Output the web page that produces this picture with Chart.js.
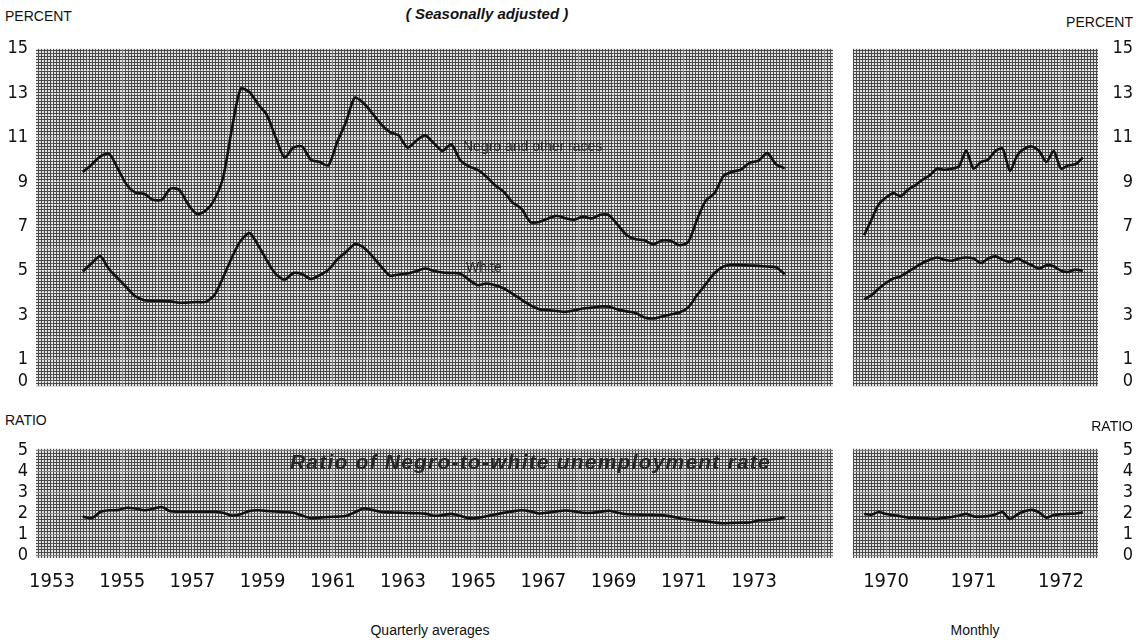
<!DOCTYPE html>
<html>
<head>
<meta charset="utf-8">
<script src="https://cdn.jsdelivr.net/npm/chart.js@4.4.1/dist/chart.umd.min.js"></script>
<style>
  body { margin: 0; background: #fff; }
  #page { position: relative; width: 1136px; height: 643px; overflow: hidden;
          font-family: 'Liberation Sans', Arial, sans-serif; color: #111; }
  canvas { position: absolute; }
  .t { position: absolute; white-space: nowrap; line-height: 1; z-index: 2; }
  .ann { color: #2a2a2a; font-size: 14px; }
</style>
</head>
<body>
<div id="page">
  <canvas id="pctQ" width="840" height="375" style="left:0;top:30px"></canvas>
  <canvas id="pctM" width="291" height="375" style="left:845px;top:30px"></canvas>
  <canvas id="ratQ" width="840" height="170" style="left:0;top:430px"></canvas>
  <canvas id="ratM" width="291" height="170" style="left:845px;top:430px"></canvas>

  <div class="t" style="left:5px;top:9px;font-size:14px">PERCENT</div>
  <div class="t" style="left:487px;top:6px;font-size:15px;font-weight:bold;font-style:italic;transform:translateX(-50%)">( Seasonally adjusted )</div>
  <div class="t" style="right:3px;top:15px;font-size:14px">PERCENT</div>
  <div class="t" style="left:5px;top:413px;font-size:14px">RATIO</div>
  <div class="t" style="right:3px;top:419px;font-size:14px">RATIO</div>
  <div class="t ann" style="left:463px;top:139px">Negro and other races</div>
  <div class="t ann" style="left:466px;top:260px">White</div>
  <div class="t" style="left:290px;top:451px;font-size:21px;letter-spacing:1.2px;font-weight:bold;font-style:italic;color:#262626">Ratio of Negro-to-white unemployment rate</div>
  <div class="t" style="left:430px;top:623px;font-size:14px;transform:translateX(-50%)">Quarterly averages</div>
  <div class="t" style="left:975px;top:623px;font-size:14px;transform:translateX(-50%)">Monthly</div>
</div>

<script>
// Quarterly averages, first point sits at the last quarter of 1953 on the picture
const quarterStart = 1953.875;
const negroQ = [9.45, 9.78, 10.15, 10.27, 9.6, 8.88, 8.52, 8.47, 8.2, 8.2,
  8.7, 8.65, 8.0, 7.56, 7.7, 8.2, 9.2, 11.4, 13.2, 13.05,
  12.5, 12.0, 11.0, 10.1, 10.55, 10.6, 10.0, 9.9, 9.75, 10.8,
  11.7, 12.8, 12.55, 12.1, 11.6, 11.25, 11.1, 10.55, 10.85, 11.1,
  10.75, 10.4, 10.7, 10.0, 9.7, 9.55, 9.25, 8.85, 8.55, 8.07,
  7.8, 7.2, 7.2, 7.35, 7.48, 7.37, 7.3, 7.44, 7.36, 7.52,
  7.5, 7.05, 6.6, 6.42, 6.37, 6.19, 6.36, 6.35, 6.15, 6.3,
  7.3, 8.16, 8.5, 9.26, 9.46, 9.56, 9.86, 9.96, 10.3, 9.8,
  9.62];
const whiteQ = [4.96, 5.34, 5.65, 5.07, 4.66, 4.25, 3.85, 3.67, 3.65, 3.64,
  3.62, 3.56, 3.57, 3.59, 3.6, 3.9, 4.7, 5.6, 6.35, 6.7,
  6.15, 5.45, 4.85, 4.6, 4.9, 4.85, 4.63, 4.8, 5.05, 5.5,
  5.85, 6.2, 6.05, 5.65, 5.2, 4.78, 4.83, 4.88, 4.98, 5.1,
  5.0, 4.92, 4.9, 4.88, 4.6, 4.35, 4.43, 4.35, 4.2, 3.96,
  3.7, 3.45, 3.27, 3.23, 3.19, 3.15, 3.22, 3.3, 3.34, 3.39,
  3.38, 3.25, 3.17, 3.1, 2.9, 2.85, 2.94, 3.03, 3.12, 3.35,
  3.9, 4.4, 4.9, 5.19, 5.27, 5.26, 5.24, 5.22, 5.19, 5.16,
  4.85];
const ratioQ = [1.85, 1.77, 2.07, 2.15, 2.16, 2.27, 2.24, 2.15, 2.22, 2.31,
  2.1, 2.08, 2.08, 2.08, 2.08, 2.08, 2.03, 1.9, 1.96, 2.12,
  2.15, 2.12, 2.09, 2.06, 2.03, 1.9, 1.77, 1.8, 1.83, 1.85,
  1.88, 2.05, 2.24, 2.17, 2.07, 2.05, 2.04, 2.02, 2.01, 1.99,
  1.89, 1.92, 1.98, 1.89, 1.77, 1.79, 1.87, 1.95, 2.03, 2.1,
  2.15, 2.1, 2.0, 2.04, 2.1, 2.14, 2.1, 2.03, 2.03, 2.08,
  2.13, 2.03, 1.96, 1.95, 1.94, 1.93, 1.92, 1.86, 1.77, 1.71,
  1.66, 1.62, 1.57, 1.53, 1.55, 1.56, 1.57, 1.66, 1.68, 1.73,
  1.82];

// Monthly, months counted from January 1970 (first point = October 1969)
const monthStart = -3;
const negroM = [6.6, 7.3, 8.0, 8.3, 8.5, 8.35, 8.65, 8.85, 9.1, 9.3,
  9.6, 9.55, 9.6, 9.7, 10.4, 9.6, 9.9, 10.0, 10.4, 10.5,
  9.5, 10.2, 10.5, 10.6, 10.4, 9.9, 10.4, 9.6, 9.75, 9.8,
  10.1];
const whiteM = [3.72, 3.9, 4.2, 4.45, 4.65, 4.75, 4.95, 5.15, 5.35, 5.5,
  5.6, 5.5, 5.45, 5.55, 5.6, 5.55, 5.35, 5.55, 5.65, 5.5,
  5.4, 5.55, 5.4, 5.25, 5.1, 5.25, 5.2, 5.0, 4.95, 5.05,
  5.0];
const ratioM = [1.97, 1.94, 2.07, 1.97, 1.92, 1.87, 1.8, 1.8, 1.77, 1.76,
  1.75, 1.8, 1.83, 1.9, 1.98, 1.86, 1.85, 1.87, 1.95, 2.07,
  1.73, 1.95, 2.1, 2.17, 2.05, 1.8, 1.93, 1.96, 1.98, 2.0,
  2.05];

// axis labels
const yearLabels = [1953, 1955, 1957, 1959, 1961, 1963, 1965, 1967, 1969, 1971, 1973];
const monthYearLabels = ['1970', '1971', '1972'];
const pctLabels = [0, 1, 3, 5, 7, 9, 11, 13, 15];
const ratioLabels = [0, 1, 2, 3, 4, 5];

const TICK_FONT = "'Liberation Sans Narrow', 'DejaVu Sans Condensed', 'Liberation Sans', sans-serif";
const GRID = 'rgba(255,255,255,0.3)';

// halftone-looking panel background (fine 3x3 mesh)
const halftone = {
  id: 'halftone',
  beforeDraw(chart) {
    const { ctx, chartArea: a } = chart;
    const tile = document.createElement('canvas');
    tile.width = 3; tile.height = 3;
    const t = tile.getContext('2d');
    t.fillStyle = '#e2e2e2'; t.fillRect(0, 0, 3, 3);
    t.fillStyle = '#484848'; t.fillRect(0, 2, 3, 1); t.fillRect(2, 0, 1, 2);
    ctx.save();
    ctx.fillStyle = ctx.createPattern(tile, 'repeat');
    ctx.fillRect(a.left, a.top, a.right - a.left, a.bottom - a.top);
    ctx.restore();
  }
};

function series(values, start, step) {
  return values.map((v, i) => ({ x: start + i * step, y: v }));
}

function line(data) {
  return { data, borderColor: '#111', borderWidth: 2.6, tension: 0.25, pointRadius: 0, fill: false };
}

function yAxis(opts) {
  return {
    type: 'linear', position: opts.side, min: opts.min, max: opts.max,
    afterFit: s => { s.width = opts.width; },
    afterBuildTicks: s => { s.ticks = opts.grid.map(v => ({ value: v })); },
    grid: { color: GRID, drawTicks: false },
    border: { display: false },
    ticks: {
      color: '#111', padding: 8, autoSkip: false,
      crossAlign: opts.side === 'left' ? 'near' : 'far',
      font: { family: TICK_FONT, size: 18 },
      callback: v => (opts.labels.includes(v) ? String(v) : '')
    }
  };
}

function xAxis(opts) {
  return {
    type: 'linear', position: 'bottom', min: opts.min, max: opts.max,
    afterFit: s => { s.height = opts.height; },
    afterBuildTicks: s => { s.ticks = opts.grid.map(v => ({ value: v })); },
    grid: { color: GRID, drawTicks: false },
    border: { display: false },
    ticks: {
      display: opts.showLabels, color: '#111', padding: 12, maxRotation: 0, autoSkip: false,
      font: { family: TICK_FONT, size: 20 },
      callback: opts.label
    }
  };
}

function panel(id, datasets, x, y, padding) {
  return new Chart(document.getElementById(id), {
    type: 'line',
    data: { datasets },
    options: {
      responsive: false, animation: false, devicePixelRatio: 1,
      layout: { padding },
      plugins: { legend: { display: false }, tooltip: { enabled: false } },
      scales: { x, y }
    },
    plugins: [halftone]
  });
}

const qYears = [];
for (let yr = 1953; yr <= 1975; yr++) qYears.push(yr);
const qLabel = v => (yearLabels.includes(v) ? String(v) : '');
const mLabel = v => monthYearLabels[v / 12] || '';
const pctGrid = [];
for (let v = 0; v <= 15; v++) pctGrid.push(v);

// quarterly percent
panel('pctQ',
  [line(series(negroQ, quarterStart, 0.25)), line(series(whiteQ, quarterStart, 0.25))],
  xAxis({ min: 1952.544, max: 1975.25, height: 8, grid: qYears, showLabels: false, label: qLabel }),
  yAxis({ side: 'left', min: -0.2, max: 15, width: 36, grid: pctGrid, labels: pctLabels }),
  { left: 0, top: 12, right: 7, bottom: 0 });

// monthly percent
panel('pctM',
  [line(series(negroM, monthStart, 1)), line(series(whiteM, monthStart, 1))],
  xAxis({ min: -4.53, max: 29.08, height: 8, grid: [0, 12, 24], showLabels: false, label: mLabel }),
  yAxis({ side: 'right', min: -0.2, max: 15, width: 35, grid: pctGrid, labels: pctLabels }),
  { left: 8, top: 12, right: 3, bottom: 0 });

// quarterly ratio
panel('ratQ',
  [line(series(ratioQ, quarterStart, 0.25))],
  xAxis({ min: 1952.544, max: 1975.25, height: 42, grid: qYears, showLabels: true, label: qLabel }),
  yAxis({ side: 'left', min: -0.13, max: 5.09, width: 36, grid: ratioLabels, labels: ratioLabels }),
  { left: 0, top: 10, right: 7, bottom: 0 });

// monthly ratio
panel('ratM',
  [line(series(ratioM, monthStart, 1))],
  xAxis({ min: -4.53, max: 29.08, height: 42, grid: [0, 12, 24], showLabels: true, label: mLabel }),
  yAxis({ side: 'right', min: -0.13, max: 5.09, width: 35, grid: ratioLabels, labels: ratioLabels }),
  { left: 8, top: 10, right: 3, bottom: 0 });
</script>
</body>
</html>
